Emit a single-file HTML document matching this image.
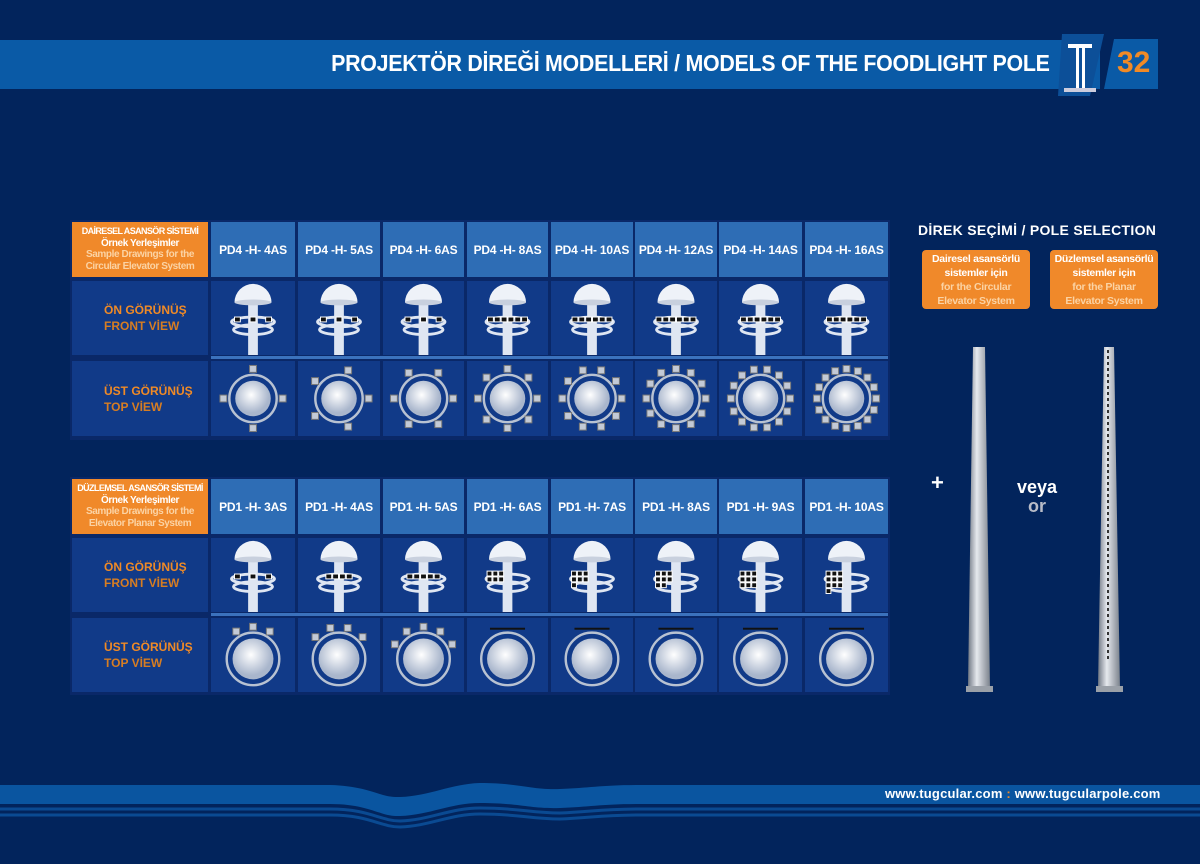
<!DOCTYPE html>
<html><head><meta charset="utf-8"><style>
*{margin:0;padding:0;box-sizing:border-box}
body{width:1200px;height:864px;background:#02245c;position:relative;overflow:hidden;font-family:"Liberation Sans",sans-serif;font-weight:bold}
.a{position:absolute}
.title{left:0;top:40px;width:1100px;height:49px;background:#0a5aa6}
.tt{right:150px;top:50px;color:#fff;letter-spacing:-0.3px;white-space:nowrap;font-size:23px;transform:scaleX(0.93);transform-origin:right}
.tbl{background:#0a2868}
.hd{background:#2e6db5;color:#fff;font-size:12px;display:flex;align-items:center;justify-content:center;letter-spacing:-0.2px;white-space:nowrap}
.cl{background:#113a88}
.or{background:#f0892a;color:#fff;font-size:10px;text-align:center;line-height:11.5px;padding-top:4px;letter-spacing:-0.4px;white-space:nowrap}
.or .f{font-size:9px;letter-spacing:-0.6px}
.or .s{color:#fbd3a4}
.lb{color:#f08a26;font-size:12px;line-height:16px;padding-left:32px;display:flex;flex-direction:column;justify-content:center}
.lb .e{color:#d77d22}
.sep{background:#3b72bd}
.ob{background:#f0892a;border-radius:4px;color:#fff;font-size:10.5px;text-align:center;line-height:14px;padding-top:2px;white-space:nowrap;letter-spacing:-0.3px}
.ob .s{color:#fbd3a4}
</style></head><body>
<div class="a title"></div>
<svg class="a" style="left:0;top:0" width="1200" height="100">
<polygon points="1062,34 1104,34 1090,96 1058,96" fill="#0c4f98"/>
<polygon points="1114,39 1158,39 1158,89 1104,89" fill="#0a5aa6"/>
<rect x="1068" y="44" width="24" height="4" fill="#fff"/>
<rect x="1076" y="48" width="3" height="40" fill="#fff"/><rect x="1082" y="48" width="3" height="40" fill="#fff"/>
<rect x="1064" y="88" width="32" height="4" fill="#ccd"/>
</svg>
<div class="a" style="left:1117px;top:46px;color:#f08a26;font-size:30px">32</div>
<div class="a tt">PROJEKTÖR DİREĞİ MODELLERİ / MODELS OF THE FOODLIGHT POLE</div>

<div id="t1" class="a tbl" style="left:70px;top:220px;width:820px;height:220px"></div>
<div id="t2" class="a tbl" style="left:70px;top:477px;width:820px;height:218px"></div>

<div class="a or" style="left:72px;top:222px;width:136px;height:55px"><span class="f">DAİRESEL ASANSÖR SİSTEMİ</span><br>Örnek Yerleşimler<br><span class="s">Sample Drawings for the<br>Circular Elevator System</span></div>
<div class="a or" style="left:72px;top:479px;width:136px;height:55px"><span class="f">DÜZLEMSEL ASANSÖR SİSTEMİ</span><br>Örnek Yerleşimler<br><span class="s">Sample Drawings for the<br>Elevator Planar System</span></div>
<div class="a cl lb" style="left:72px;top:281px;width:136px;height:74px">ÖN GÖRÜNÜŞ<span class="e">FRONT VİEW</span></div>
<div class="a cl lb" style="left:72px;top:361px;width:136px;height:75px">ÜST GÖRÜNÜŞ<span class="e">TOP VİEW</span></div>
<div class="a cl lb" style="left:72px;top:538px;width:136px;height:74px">ÖN GÖRÜNÜŞ<span class="e">FRONT VİEW</span></div>
<div class="a cl lb" style="left:72px;top:618px;width:136px;height:74px">ÜST GÖRÜNÜŞ<span class="e">TOP VİEW</span></div>

<div class="a hd" style="left:211px;top:222px;width:84px;height:55px">PD4 -H- 4AS</div>
<div class="a hd" style="left:298px;top:222px;width:82px;height:55px">PD4 -H- 5AS</div>
<div class="a hd" style="left:383px;top:222px;width:81px;height:55px">PD4 -H- 6AS</div>
<div class="a hd" style="left:467px;top:222px;width:81px;height:55px">PD4 -H- 8AS</div>
<div class="a hd" style="left:551px;top:222px;width:82px;height:55px">PD4 -H- 10AS</div>
<div class="a hd" style="left:635px;top:222px;width:82px;height:55px">PD4 -H- 12AS</div>
<div class="a hd" style="left:719px;top:222px;width:83px;height:55px">PD4 -H- 14AS</div>
<div class="a hd" style="left:805px;top:222px;width:83px;height:55px">PD4 -H- 16AS</div>
<div class="a hd" style="left:211px;top:479px;width:84px;height:55px">PD1 -H- 3AS</div>
<div class="a hd" style="left:298px;top:479px;width:82px;height:55px">PD1 -H- 4AS</div>
<div class="a hd" style="left:383px;top:479px;width:81px;height:55px">PD1 -H- 5AS</div>
<div class="a hd" style="left:467px;top:479px;width:81px;height:55px">PD1 -H- 6AS</div>
<div class="a hd" style="left:551px;top:479px;width:82px;height:55px">PD1 -H- 7AS</div>
<div class="a hd" style="left:635px;top:479px;width:82px;height:55px">PD1 -H- 8AS</div>
<div class="a hd" style="left:719px;top:479px;width:83px;height:55px">PD1 -H- 9AS</div>
<div class="a hd" style="left:805px;top:479px;width:83px;height:55px">PD1 -H- 10AS</div>
<div id="cells"></div>

<div class="a" style="left:918px;top:222px;color:#fff;font-size:14px;letter-spacing:0.3px">DİREK SEÇİMİ / POLE SELECTION</div>
<div class="a ob" style="left:922px;top:250px;width:108px;height:59px">Dairesel asansörlü<br>sistemler için<br><span class="s">for the Circular<br>Elevator System</span></div>
<div class="a ob" style="left:1050px;top:250px;width:108px;height:59px">Düzlemsel asansörlü<br>sistemler için<br><span class="s">for the Planar<br>Elevator System</span></div>
<svg class="a" style="left:900px;top:340px" width="300" height="370">
<defs><linearGradient id="pg" x1="0" x2="1"><stop offset="0" stop-color="#6f7783"/><stop offset=".4" stop-color="#e6e9ee"/><stop offset="1" stop-color="#7b828c"/></linearGradient></defs>
<polygon points="73,7 85,7 90,348 68,348" fill="url(#pg)"/>
<rect x="66" y="346" width="27" height="6" fill="#9aa0a8"/>
<polygon points="204,7 214,7 220,348 198,348" fill="url(#pg)"/>
<line x1="208" y1="10" x2="208" y2="320" stroke="#333" stroke-width="2" stroke-dasharray="3,3"/>
<rect x="196" y="346" width="27" height="6" fill="#9aa0a8"/>
</svg>
<div class="a" style="left:931px;top:470px;color:#fff;font-size:22px">+</div>
<div class="a" style="left:1017px;top:477px;color:#fff;font-size:18px">veya</div>
<div class="a" style="left:1028px;top:496px;color:#b8bcc8;font-size:18px">or</div>

<svg class="a" style="left:0;top:770px" width="1200" height="60">
<path d="M0,15 L330,15 C370,16 380,28 400,27 C430,26 450,14 480,13 C520,13 530,20 560,19 C590,18 600,15 640,15 L1200,15 L1200,34 L640,34 C600,34 590,37 560,38 C530,39 520,33 480,33 C450,33 430,45 400,46 C380,47 370,34 330,34 L0,34Z" fill="#0a55a0"/>
<g fill="none" stroke="#0a4a92" stroke-width="3">
<path d="M0,39 L330,39 C370,39 380,51 400,51 C430,50 450,38 480,38 C520,38 530,43 560,43 C590,42 600,39 640,39 L1200,39"/>
<path d="M0,45 L330,45 C370,45 380,57 400,57 C430,56 450,44 480,44 C520,44 530,49 560,49 C590,48 600,45 640,45 L1200,45"/>
</g></svg>
<div class="a" style="left:885px;top:786px;color:#fff;font-size:13px;letter-spacing:0.2px">www.tugcular.com <span style="color:#f08a26">:</span> www.tugcularpole.com</div>

<script>
var xs=[[211,84],[298,82],[383,81],[467,81],[551,82],[635,82],[719,83],[805,83]];
var rows=[[281,74,'f',1],[361,75,'t',1],[538,74,'f',2],[618,74,'t',2]];
var n1=[4,5,6,8,10,12,14,16],n2=[3,4,5,6,7,8,9,10];
var h='';
h+='<div class="a sep" style="left:211px;top:356px;width:677px;height:3px"></div>';
h+='<div class="a sep" style="left:211px;top:613px;width:677px;height:3px"></div>';
rows.forEach(function(r){xs.forEach(function(c,i){
 var n=r[3]==1?n1[i]:n2[i];var s='';
 if(r[2]=='f'){
  s='<rect x="36" y="22" width="10" height="54" fill="#dfe6f2"/><path d="M22,22 A19,19 0 0 1 60,22 Z" fill="#eef2f8"/><ellipse cx="41" cy="22" rx="19" ry="3" fill="#c8d0de"/>';
  s+='<ellipse cx="41" cy="42" rx="22" ry="5" fill="none" stroke="#dfe6f2" stroke-width="3"/><ellipse cx="41" cy="50" rx="20" ry="5" fill="none" stroke="#dfe6f2" stroke-width="3"/>';
  if(r[3]==1||i<3){var k=Math.min(n,6);if(r[3]==1&&i<3)k=3;var sp=k<=3?16:7;for(var j=0;j<k;j++){var x=41-((k-1)*sp/2)+j*sp;s+='<rect x="'+(x-3)+'" y="37" width="6" height="5" fill="#111" stroke="#fff"/>';}}
  else{var k=n;for(var j=0;j<k;j++){var x=20+(j%3)*6,y=34+Math.floor(j/3)*6;s+='<rect x="'+x+'" y="'+y+'" width="5" height="5" fill="#111" stroke="#fff"/>';}}
 }else{
  var R=r[3]==1?19:22,cy=r[3]==1?38:42;
  s='<defs><radialGradient id="g'+i+r[0]+'" cx=".45" cy=".4"><stop offset="0" stop-color="#fff"/><stop offset="1" stop-color="#a9b6cc"/></radialGradient></defs>';
  s+='<circle cx="41" cy="'+cy+'" r="'+(R+5)+'" fill="none" stroke="#b8c2d2" stroke-width="2.5"/><circle cx="41" cy="'+cy+'" r="'+(R-1)+'" fill="url(#g'+i+r[0]+')"/>';
  if(r[3]==1||i<3){for(var j=0;j<n;j++){var a=(r[3]==1?j/n*2*Math.PI:(-Math.PI/2+(j-(n-1)/2)*0.55));var rr=R+11;var x=41+rr*Math.cos(a),y=cy+rr*Math.sin(a);s+='<rect x="'+(x-3.5)+'" y="'+(y-3.5)+'" width="7" height="7" fill="#c3cad6" stroke="#777"/>';}}
  else s+='<rect x="23" y="'+(cy-R-10)+'" width="36" height="2" fill="#111"/>';
 }
 h+='<div class="a cl" style="left:'+c[0]+'px;top:'+r[0]+'px;width:'+c[1]+'px;height:'+r[1]+'px"><svg width="'+c[1]+'" height="'+r[1]+'" viewBox="0 0 82 76">'+s+'</svg></div>';
});});
document.getElementById('cells').innerHTML=h;
</script>
</body></html>
